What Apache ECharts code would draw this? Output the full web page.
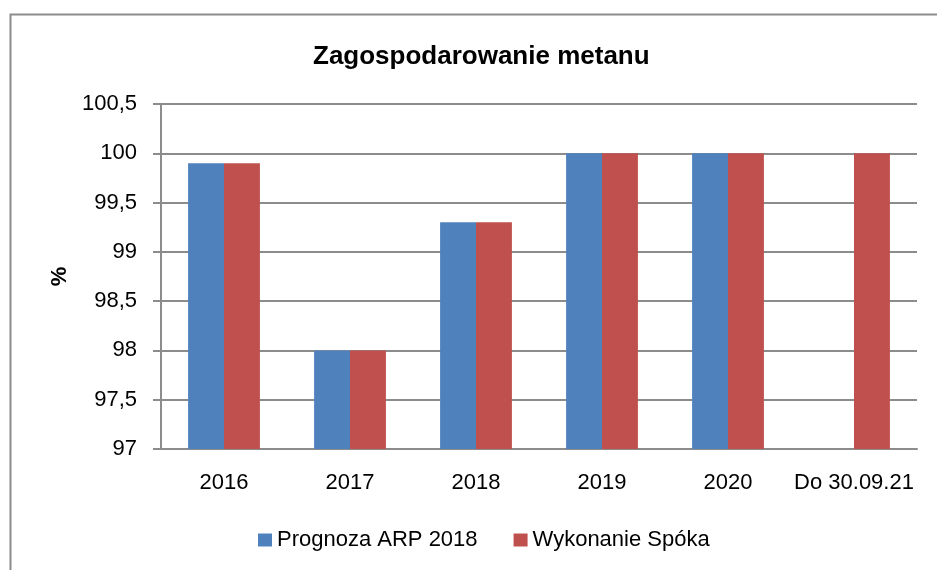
<!DOCTYPE html>
<html>
<head>
<meta charset="UTF-8">
<title>Zagospodarowanie metanu</title>
<script src="https://cdn.jsdelivr.net/npm/echarts@6/dist/echarts.min.js"></script>
<style>
  html, body { margin: 0; padding: 0; background: #fff; }
  #chart { width: 937px; height: 570px; }
</style>
</head>
<body>
<div id="chart"></div>
<script type="text/javascript">
  var categories = ['2016', '2017', '2018', '2019', '2020', 'Do 30.09.21'];
  var prognoza = [99.9, 98, 99.3, 100, 100, null];
  var wykonanie = [99.9, 98, 99.3, 100, 100, 100];
  var seriesNames = ['Prognoza ARP 2018', 'Wykonanie Spóka'];

  var font = '"Liberation Sans", Arial, sans-serif';
  var chart = echarts.init(document.getElementById('chart'));

  var option = {
    animation: false,
    color: ['#4F81BD', '#C0504D'],
    textStyle: { fontFamily: font },
    graphic: [{
      type: 'rect',
      shape: { x: 10.5, y: 14.5, width: 1000, height: 1000 },
      style: { fill: 'none', stroke: '#8c8c8c', lineWidth: 2 },
      silent: true
    }],
    title: {
      text: 'Zagospodarowanie metanu',
      left: 308,
      top: 39,
      textStyle: { fontFamily: font, fontSize: 26, fontWeight: 'bold', color: '#000' }
    },
    legend: {
      top: 524,
      left: 253,
      itemWidth: 14,
      itemHeight: 13,
      itemGap: 36,
      icon: 'rect',
      textStyle: { fontFamily: font, fontSize: 22, color: '#000' },
      data: seriesNames
    },
    grid: { left: 161, right: 20, top: 104, bottom: 121 },
    xAxis: {
      type: 'category',
      data: categories,
      axisLine: { lineStyle: { color: '#8c8c8c', width: 2 } },
      axisTick: { length: 8, lineStyle: { color: '#8c8c8c', width: 2 } },
      axisLabel: { interval: 0, fontSize: 22, color: '#000', margin: 23 }
    },
    yAxis: {
      type: 'value',
      min: 97,
      max: 100.5,
      interval: 0.5,
      name: '%',
      nameLocation: 'middle',
      nameGap: 90,
      nameTextStyle: { fontSize: 22, fontWeight: 'bold', color: '#000' },
      axisLine: { show: true, lineStyle: { color: '#8c8c8c', width: 2 } },
      axisTick: { show: true, length: 8, lineStyle: { color: '#8c8c8c', width: 2 } },
      splitLine: { lineStyle: { color: '#8c8c8c', width: 2 } },
      axisLabel: {
        fontSize: 22,
        color: '#000',
        margin: 24,
        formatter: function (v) { return String(v).replace('.', ','); }
      }
    },
    series: [
      {
        name: seriesNames[0],
        type: 'bar',
        data: prognoza,
        barGap: '0%',
        barCategoryGap: '43%'
      },
      {
        name: seriesNames[1],
        type: 'bar',
        data: wykonanie,
        barGap: '0%',
        barCategoryGap: '43%'
      }
    ]
  };
  chart.setOption(option);
</script>
</body>
</html>
